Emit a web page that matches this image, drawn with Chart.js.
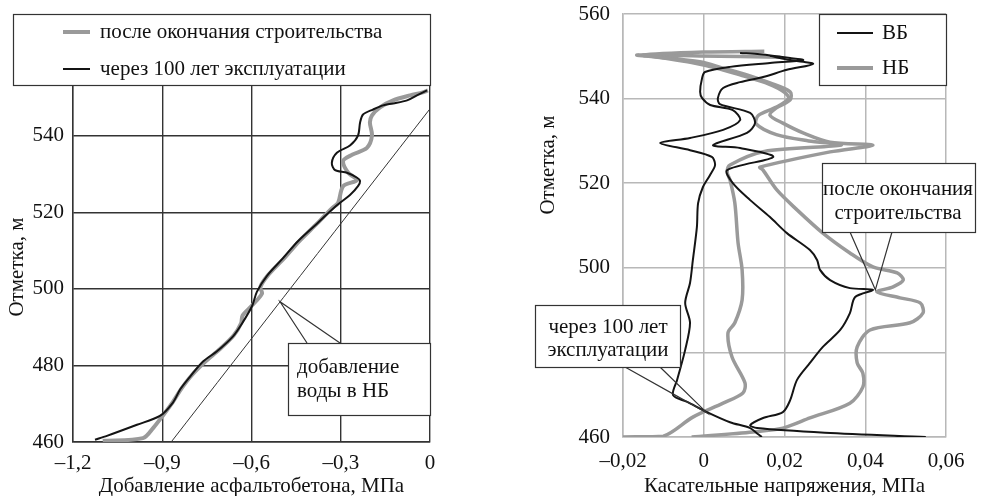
<!DOCTYPE html>
<html>
<head>
<meta charset="utf-8">
<script src="https://cdn.jsdelivr.net/npm/chart.js@4.4.1/dist/chart.umd.min.js"></script>
<style>
html, body { margin: 0; padding: 0; background: #fff; }
#wrap { position: relative; width: 990px; height: 496px; }
#left { position: absolute; left: 0; top: 0; }
#right { position: absolute; left: 495px; top: 0; }
</style>
</head>
<body>
<div id="wrap">
  <canvas id="left" width="495" height="496"></canvas>
  <canvas id="right" width="495" height="496"></canvas>
</div>
<script>
// --- левый график: добавление асфальтобетона ---
const elevAfter100 = [460.6, 461.6, 464.5, 466.8, 470.3, 473.7, 477, 481, 483.7, 487.6, 491.3, 495.5, 499.2, 503.4, 508, 512.4, 517, 521.8, 524.5, 526.8, 528.2, 529, 530.3, 531, 532.9, 535.5, 537.4, 540, 543.4, 545.5, 546.8, 547.9, 548.4, 549.2, 550.5, 551.8];
const addAfter100 = [-1.126, -1.086, -0.985, -0.908, -0.864, -0.84, -0.807, -0.763, -0.716, -0.662, -0.629, -0.598, -0.582, -0.548, -0.494, -0.444, -0.38, -0.313, -0.269, -0.242, -0.235, -0.245, -0.279, -0.319, -0.33, -0.313, -0.269, -0.242, -0.235, -0.225, -0.192, -0.158, -0.124, -0.077, -0.044, -0.01];

const elevAfterBuild = [460.3, 461, 463.7, 467, 470.5, 474, 477.5, 481, 484, 487.8, 491, 493, 495.5, 498.7, 500.5, 503.5, 508, 512.4, 517, 521, 522.4, 526.8, 528.4, 530.3, 533.4, 535, 536.8, 540, 543.4, 545.3, 547.4, 549.2, 550.5, 551.3, 551.8];
const addAfterBuild = [-1.10, -0.965, -0.93, -0.897, -0.864, -0.835, -0.80, -0.755, -0.71, -0.66, -0.635, -0.63, -0.60, -0.565, -0.57, -0.545, -0.49, -0.44, -0.38, -0.33, -0.309, -0.292, -0.245, -0.275, -0.292, -0.262, -0.212, -0.195, -0.202, -0.195, -0.168, -0.124, -0.067, -0.024, -0.007];

const elevWater = [460, 547];
const addWater = [-0.87, 0];

const leftXTicks = [-1.2, -0.9, -0.6, -0.3, 0];
const leftYTicks = [460, 480, 500, 520, 540, 560];

// --- правый график: касательные напряжения ---
const elevVB100 = [460, 460.7, 462.1, 463.5, 465.9, 468.3, 469.9, 473.5, 480.6, 487.0, 491.7, 496.4, 501.8, 509.6, 515.3, 519.1, 522, 524.3, 526.2, 527.8, 529.5, 530.7, 532.6, 534.9, 537.3, 538.5, 540.1, 541.6, 544.9, 546.3, 547.5, 548.4, 549.1, 549.6, 550.5, 550.8];
const tauVB100 = [0.0144, 0.0134, 0.0115, 0.0065, 0.0008, -0.0041, -0.0076, -0.0066, -0.0046, -0.0034, -0.0046, -0.0034, -0.0027, -0.0017, -0.0014, -0.0002, 0.0016, 0.0028, 0.002, -0.0034, -0.0108, -0.0034, 0.0048, 0.009, 0.0072, 0.0016, -0.0004, -0.0009, -0.0004, 0.0003, 0.0065, 0.0164, 0.0246, 0.0214, 0.0139, 0.009];

const elevVBBuild = [460, 461.0, 462.1, 462.8, 464.5, 465.9, 468.7, 473.5, 477.5, 481.3, 485.3, 489.3, 493.1, 494.8, 495.2, 497.1, 499.5, 501.8, 504.2, 508.2, 512.0, 516.0, 520.0, 523.1, 526.2, 528.3, 529.0, 531.9, 534.2, 536.6, 538.7, 540.1, 542.5, 543.9, 545.1, 546.8, 548.2, 549.1, 550.1];
const tauVBBuild = [0.055, 0.030, 0.0132, 0.0115, 0.0147, 0.0196, 0.0214, 0.0231, 0.0263, 0.0295, 0.0338, 0.0362, 0.0375, 0.0419, 0.0362, 0.0313, 0.0288, 0.0281, 0.0263, 0.0206, 0.0164, 0.0115, 0.0072, 0.0058, 0.0172, 0.009, 0.0023, 0.0107, 0.0127, 0.0115, 0.004, 0.0035, 0.0048, 0.009, 0.0147, 0.0206, 0.0271, 0.0214, 0.0164];

const elevNB100 = [460, 460.2, 464.7, 468.0, 470.4, 472.8, 478.9, 484.6, 487.0, 492.4, 499.5, 505.9, 515.3, 520.8, 522.6, 524.3, 527.5, 529.0, 530.0, 531.5, 534, 536, 538, 540, 541.5, 543.5, 545.3, 547, 548.5, 549.6, 550.3, 551.0, 551.2];
const tauNB100 = [-0.02, -0.010, -0.0027, 0.0048, 0.0097, 0.0102, 0.007, 0.006, 0.0077, 0.0095, 0.0095, 0.0085, 0.0077, 0.0065, 0.0058, 0.0065, 0.015, 0.034, 0.026, 0.018, 0.013, 0.0135, 0.018, 0.021, 0.020, 0.016, 0.010, 0.004, -0.003, -0.010, -0.015, 0.0, 0.015];

const elevNBBuild = [460, 461.2, 462.1, 464.5, 468.0, 471.8, 475.1, 477.5, 481.3, 485.3, 487.0, 489.3, 491.7, 492.9, 494.3, 495.5, 497.1, 498.8, 500.2, 503.5, 508.2, 513.7, 518.4, 523.1, 523.8, 527.4, 529.0, 529.7, 531.9, 534.2, 536.1, 537.8, 539.7, 541.6, 543.7, 545.6, 547.2, 548.7, 549.8, 550.3, 550.1, 549.8];
const tauNBBuild = [-0.003, 0.0122, 0.0196, 0.0263, 0.0362, 0.0394, 0.0394, 0.038, 0.038, 0.0412, 0.0511, 0.0543, 0.0536, 0.0486, 0.0429, 0.0469, 0.0494, 0.0479, 0.0419, 0.0362, 0.0295, 0.0231, 0.0181, 0.0147, 0.0139, 0.0313, 0.0419, 0.0313, 0.0246, 0.0196, 0.0164, 0.018, 0.0214, 0.0214, 0.0164, 0.0107, 0.0048, -0.001, -0.011, -0.0165, -0.001, 0.019];

const rightXTicks = [-0.02, 0, 0.02, 0.04, 0.06];
const rightYTicks = [460, 480, 500, 520, 540, 560];

const FONT = 'Liberation Serif';
const FS = 21;
const BLACK = '#141414';
const GRAY = '#9a9a9a';

function pts(xs, ys) {
    return xs.map((x, i) => ({ x: x, y: ys[i] }));
}

// "–0,3" вместо "-0.3"
function fmt(v) {
    if (v === 0) return '0';
    return (v < 0 ? '\u2013' : '') + String(Math.abs(v)).replace('.', ',');
}

function line(data, color, width) {
    return {
        data: data,
        showLine: true,
        borderColor: color,
        borderWidth: width,
        pointRadius: 0,
        tension: 0.3,
        fill: false
    };
}

function drawCallout(ctx, box, base, tip, lines, align) {
    ctx.save();
    ctx.strokeStyle = '#333';
    ctx.lineWidth = 1.2;
    ctx.beginPath();
    ctx.moveTo(base[0].x, base[0].y);
    ctx.lineTo(tip.x, tip.y);
    ctx.lineTo(base[1].x, base[1].y);
    ctx.stroke();
    ctx.fillStyle = '#fff';
    ctx.fillRect(box.x, box.y, box.w, box.h);
    ctx.strokeRect(box.x + 0.5, box.y + 0.5, box.w, box.h);
    ctx.fillStyle = '#111';
    ctx.font = FS + 'px "' + FONT + '"';
    ctx.textBaseline = 'middle';
    ctx.textAlign = align;
    lines.forEach(l => ctx.fillText(l.text, l.x, l.y));
    ctx.restore();
}

function drawLegend(ctx, box, items) {
    ctx.save();
    ctx.fillStyle = '#fff';
    ctx.strokeStyle = '#333';
    ctx.lineWidth = 1.2;
    ctx.fillRect(box.x, box.y, box.w, box.h);
    ctx.strokeRect(box.x + 0.5, box.y + 0.5, box.w, box.h);
    ctx.font = FS + 'px "' + FONT + '"';
    ctx.textBaseline = 'middle';
    ctx.textAlign = 'left';
    items.forEach(it => {
        ctx.strokeStyle = it.color;
        ctx.lineWidth = it.width;
        ctx.beginPath();
        ctx.moveTo(it.x0, it.y);
        ctx.lineTo(it.x1, it.y);
        ctx.stroke();
        ctx.fillStyle = '#111';
        ctx.fillText(it.text, it.tx, it.y);
    });
    ctx.restore();
}

// подпись оси Y рисуется вручную: она смещена от центра области графика
function drawYTitle(ctx, x, y) {
    ctx.save();
    ctx.translate(x, y);
    ctx.rotate(-Math.PI / 2);
    ctx.font = FS + 'px "' + FONT + '"';
    ctx.fillStyle = '#111';
    ctx.textAlign = 'center';
    ctx.textBaseline = 'middle';
    ctx.fillText('Отметка, м', 0, 0);
    ctx.restore();
}

function axes(xMin, xMax, xTicks, yTicks, xTitle, opt) {
    return {
        x: {
            type: 'linear', min: xMin, max: xMax,
            afterBuildTicks: s => { s.ticks = xTicks.map(v => ({ value: v })); },
            afterFit: s => { s.height = opt.xHeight; s.paddingLeft = 0; s.paddingRight = 0; },
            grid: { color: opt.grid, lineWidth: opt.gridWidth, drawTicks: false },
            border: { color: opt.grid, width: opt.gridWidth },
            ticks: { color: '#111', padding: opt.xPad, maxRotation: 0, font: { family: FONT, size: FS }, callback: v => fmt(v) },
            title: { display: true, text: xTitle, color: '#111', padding: { top: 0, bottom: 0 }, font: { family: FONT, size: FS, lineHeight: 0.9 } }
        },
        y: {
            type: 'linear', min: 460, max: 560,
            afterBuildTicks: s => { s.ticks = yTicks.map(v => ({ value: v })); },
            afterFit: s => { s.width = opt.yWidth; s.paddingTop = 0; s.paddingBottom = 0; },
            grid: { color: opt.grid, lineWidth: opt.gridWidth, drawTicks: false },
            border: { color: opt.grid, width: opt.gridWidth },
            ticks: { color: '#111', padding: opt.yPad, font: { family: FONT, size: FS }, callback: v => fmt(v) },
            title: { display: false }
        }
    };
}

const leftPlugin = {
    id: 'leftExtras',
    afterDraw(chart) {
        const ctx = chart.ctx;
        const sx = chart.scales.x, sy = chart.scales.y;
        drawYTitle(ctx, 17, 267);
        // точка на линии добавления воды
        const e = 496.6;
        const v = addWater[0] + (addWater[1] - addWater[0]) * (e - elevWater[0]) / (elevWater[1] - elevWater[0]);
        const tip = { x: sx.getPixelForValue(v), y: sy.getPixelForValue(e) };
        drawCallout(ctx, { x: 288, y: 343, w: 142, h: 72 },
            [{ x: 307, y: 343 }, { x: 340, y: 343 }], tip,
            [{ text: 'добавление', x: 297, y: 367 }, { text: 'воды в НБ', x: 297, y: 391 }], 'left');
        drawLegend(ctx, { x: 13, y: 14, w: 417, h: 71 }, [
            { color: GRAY, width: 4, x0: 63, x1: 90, y: 32, tx: 100, text: 'после окончания строительства' },
            { color: BLACK, width: 2, x0: 63, x1: 90, y: 69, tx: 100, text: 'через 100 лет эксплуатации' }
        ]);
    }
};

const rightPlugin = {
    id: 'rightExtras',
    afterDraw(chart) {
        const ctx = chart.ctx;
        const sx = chart.scales.x, sy = chart.scales.y;
        drawYTitle(ctx, 53, 165);
        const tipBuild = { x: sx.getPixelForValue(0.0425), y: sy.getPixelForValue(494.8) };
        const tip100 = { x: sx.getPixelForValue(0.0008), y: sy.getPixelForValue(465.7) };
        drawCallout(ctx, { x: 327, y: 163, w: 153, h: 69 },
            [{ x: 355, y: 232 }, { x: 397, y: 232 }], tipBuild,
            [{ text: 'после окончания', x: 403, y: 189 }, { text: 'строительства', x: 403, y: 213 }], 'center');
        drawCallout(ctx, { x: 40, y: 305, w: 145, h: 62 },
            [{ x: 130, y: 367 }, { x: 165, y: 367 }], tip100,
            [{ text: 'через 100 лет', x: 113, y: 327 }, { text: 'эксплуатации', x: 113, y: 350 }], 'center');
        drawLegend(ctx, { x: 324, y: 14, w: 127, h: 71 }, [
            { color: BLACK, width: 2, x0: 342, x1: 378, y: 33, tx: 387, text: 'ВБ' },
            { color: GRAY, width: 4, x0: 342, x1: 378, y: 68, tx: 387, text: 'НБ' }
        ]);
    }
};

new Chart(document.getElementById('left'), {
    type: 'scatter',
    data: {
        datasets: [
            line(pts(addAfter100, elevAfter100), BLACK, 2),
            line(pts(addAfterBuild, elevAfterBuild), GRAY, 4),
            line(pts(addWater, elevWater), '#333', 1)
        ]
    },
    options: {
        responsive: false,
        animation: false,
        layout: { padding: { left: 0, right: 65, top: 59, bottom: 0 } },
        plugins: { legend: { display: false }, tooltip: { enabled: false } },
        scales: axes(-1.2, 0, leftXTicks, leftYTicks, 'Добавление асфальтобетона, МПа',
            { grid: '#333333', gridWidth: 1.4, xHeight: 54, yWidth: 73, xPad: 9, yPad: 9 })
    },
    plugins: [leftPlugin]
});

new Chart(document.getElementById('right'), {
    type: 'scatter',
    data: {
        datasets: [
            line(pts(tauVB100, elevVB100), BLACK, 2),
            line(pts(tauVBBuild, elevVBBuild), BLACK, 2),
            line(pts(tauNB100, elevNB100), GRAY, 3.5),
            line(pts(tauNBBuild, elevNBBuild), GRAY, 3.5)
        ]
    },
    options: {
        responsive: false,
        animation: false,
        layout: { padding: { left: 0, right: 44, top: 14, bottom: 0 } },
        plugins: { legend: { display: false }, tooltip: { enabled: false } },
        scales: axes(-0.02, 0.06, rightXTicks, rightYTicks, 'Касательные напряжения, МПа',
            { grid: '#b8b8b8', gridWidth: 1.5, xHeight: 59, yWidth: 128, xPad: 12, yPad: 13 })
    },
    plugins: [rightPlugin]
});
</script>
</body>
</html>
